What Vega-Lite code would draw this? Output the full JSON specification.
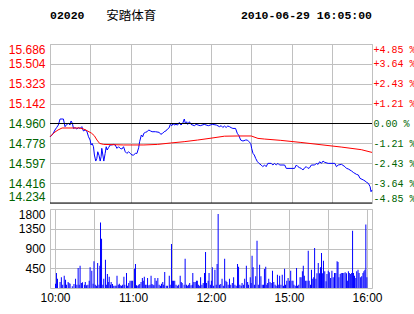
{
  "$schema": "https://vega.github.io/schema/vega-lite/v6.json",
  "padding": {"left": 7, "top": 5, "right": 5, "bottom": 5},
  "background": "white",
  "config": {"view": {"stroke": "#c0c0c0"}, "font": "Liberation Sans", "axis": {"labelFont": "Liberation Sans", "labelColor": "#000000"}},
  "datasets": {
    "header": [
      {"m": 0, "t": "02020", "k": "code"},
      {"m": 42, "t": "安踏体育", "k": "name"},
      {"m": 240, "t": "2010-06-29 16:05:00", "k": "time"}
    ],
    "ref": [{"pct": 0}, {"pct": -4.85}],
    "lines": [
      {"s":"price","m":0,"p":14.839},{"s":"price","m":1.1,"p":14.849},{"s":"price","m":2.4,"p":14.870},{"s":"price","m":3.7,"p":14.901},{"s":"price","m":4.9,"p":14.922},{"s":"price","m":6.2,"p":14.946},{"s":"price","m":7.5,"p":15.001},{"s":"price","m":10,"p":15.001},{"s":"price","m":11.2,"p":14.931},{"s":"price","m":12.5,"p":14.952},{"s":"price","m":13.7,"p":14.961},{"s":"price","m":14.9,"p":14.946},{"s":"price","m":15.7,"p":14.983},{"s":"price","m":16.7,"p":14.961},{"s":"price","m":17.5,"p":14.915},{"s":"price","m":18.7,"p":14.922},{"s":"price","m":20,"p":14.910},{"s":"price","m":21.2,"p":14.922},{"s":"price","m":22.4,"p":14.915},{"s":"price","m":23.7,"p":14.931},{"s":"price","m":24.9,"p":14.892},{"s":"price","m":26.2,"p":14.901},{"s":"price","m":27.4,"p":14.892},{"s":"price","m":28.7,"p":14.839},{"s":"price","m":29.9,"p":14.809},{"s":"price","m":30.6,"p":14.764},{"s":"price","m":31.4,"p":14.778},{"s":"price","m":32.4,"p":14.748},{"s":"price","m":33.1,"p":14.672},{"s":"price","m":34.1,"p":14.617},{"s":"price","m":34.9,"p":14.641},{"s":"price","m":35.6,"p":14.702},{"s":"price","m":36.6,"p":14.666},{"s":"price","m":37.4,"p":14.617},{"s":"price","m":38.1,"p":14.657},{"s":"price","m":38.6,"p":14.733},{"s":"price","m":39.4,"p":14.672},{"s":"price","m":40.1,"p":14.617},{"s":"price","m":41.1,"p":14.687},{"s":"price","m":41.9,"p":14.748},{"s":"price","m":42.6,"p":14.718},{"s":"price","m":43.6,"p":14.739},{"s":"price","m":44.9,"p":14.764},{"s":"price","m":46.1,"p":14.764},{"s":"price","m":47.4,"p":14.769},{"s":"price","m":48.6,"p":14.764},{"s":"price","m":49.9,"p":14.733},{"s":"price","m":51.1,"p":14.748},{"s":"price","m":52.3,"p":14.733},{"s":"price","m":53.6,"p":14.727},{"s":"price","m":54.8,"p":14.748},{"s":"price","m":56.1,"p":14.702},{"s":"price","m":57.3,"p":14.687},{"s":"price","m":58.6,"p":14.702},{"s":"price","m":59.8,"p":14.687},{"s":"price","m":61.1,"p":14.672},{"s":"price","m":62.3,"p":14.672},{"s":"price","m":63.6,"p":14.687},{"s":"price","m":64.8,"p":14.687},{"s":"price","m":66.1,"p":14.739},{"s":"price","m":66.8,"p":14.794},{"s":"price","m":68.1,"p":14.855},{"s":"price","m":69.1,"p":14.839},{"s":"price","m":69.9,"p":14.870},{"s":"price","m":71.1,"p":14.879},{"s":"price","m":72.4,"p":14.885},{"s":"price","m":73.6,"p":14.901},{"s":"price","m":74.9,"p":14.892},{"s":"price","m":76.1,"p":14.885},{"s":"price","m":78.6,"p":14.885},{"s":"price","m":81.4,"p":14.879},{"s":"price","m":82.6,"p":14.861},{"s":"price","m":83.9,"p":14.870},{"s":"price","m":85.1,"p":14.885},{"s":"price","m":86.4,"p":14.892},{"s":"price","m":87.6,"p":14.910},{"s":"price","m":88.9,"p":14.922},{"s":"price","m":89.6,"p":14.952},{"s":"price","m":90.8,"p":14.940},{"s":"price","m":91.8,"p":14.961},{"s":"price","m":92.6,"p":14.946},{"s":"price","m":93.9,"p":14.952},{"s":"price","m":95.1,"p":14.946},{"s":"price","m":96.4,"p":14.970},{"s":"price","m":97.6,"p":14.946},{"s":"price","m":98.9,"p":14.961},{"s":"price","m":100.1,"p":15.001},{"s":"price","m":100.9,"p":14.961},{"s":"price","m":101.9,"p":14.976},{"s":"price","m":102.6,"p":14.952},{"s":"price","m":103.9,"p":14.976},{"s":"price","m":105.1,"p":14.952},{"s":"price","m":107.6,"p":14.940},{"s":"price","m":108.9,"p":14.952},{"s":"price","m":112,"p":14.940},{"s":"price","m":115,"p":14.952},{"s":"price","m":118,"p":14.940},{"s":"price","m":121,"p":14.952},{"s":"price","m":124,"p":14.946},{"s":"price","m":126.3,"p":14.931},{"s":"price","m":127.6,"p":14.940},{"s":"price","m":128.8,"p":14.924},{"s":"price","m":130,"p":14.937},{"s":"price","m":131.3,"p":14.924},{"s":"price","m":132.5,"p":14.937},{"s":"price","m":133.8,"p":14.931},{"s":"price","m":135,"p":14.922},{"s":"price","m":136.3,"p":14.915},{"s":"price","m":138.3,"p":14.915},{"s":"price","m":139.6,"p":14.870},{"s":"price","m":140.8,"p":14.849},{"s":"price","m":142.1,"p":14.809},{"s":"price","m":143.8,"p":14.800},{"s":"price","m":145.8,"p":14.809},{"s":"price","m":147.1,"p":14.809},{"s":"price","m":148.3,"p":14.794},{"s":"price","m":149.6,"p":14.778},{"s":"price","m":150.3,"p":14.733},{"s":"price","m":151.3,"p":14.687},{"s":"price","m":152.3,"p":14.672},{"s":"price","m":153.3,"p":14.641},{"s":"price","m":154.6,"p":14.611},{"s":"price","m":155.8,"p":14.596},{"s":"price","m":157.4,"p":14.581},{"s":"price","m":158.6,"p":14.566},{"s":"price","m":159.9,"p":14.581},{"s":"price","m":161.1,"p":14.566},{"s":"price","m":162.4,"p":14.596},{"s":"price","m":164.9,"p":14.596},{"s":"price","m":166.1,"p":14.581},{"s":"price","m":167.4,"p":14.596},{"s":"price","m":168.6,"p":14.581},{"s":"price","m":169.9,"p":14.596},{"s":"price","m":171.1,"p":14.581},{"s":"price","m":174.9,"p":14.581},{"s":"price","m":176.1,"p":14.550},{"s":"price","m":182.3,"p":14.550},{"s":"price","m":183.6,"p":14.581},{"s":"price","m":184.8,"p":14.566},{"s":"price","m":186.1,"p":14.556},{"s":"price","m":187.3,"p":14.550},{"s":"price","m":188.5,"p":14.535},{"s":"price","m":189.8,"p":14.556},{"s":"price","m":191,"p":14.566},{"s":"price","m":192.3,"p":14.550},{"s":"price","m":193.5,"p":14.556},{"s":"price","m":194.8,"p":14.581},{"s":"price","m":197.3,"p":14.581},{"s":"price","m":198.5,"p":14.596},{"s":"price","m":199.8,"p":14.587},{"s":"price","m":201,"p":14.611},{"s":"price","m":202.3,"p":14.596},{"s":"price","m":203.5,"p":14.617},{"s":"price","m":204.8,"p":14.605},{"s":"price","m":207.3,"p":14.596},{"s":"price","m":212.3,"p":14.596},{"s":"price","m":213.5,"p":14.566},{"s":"price","m":214.8,"p":14.581},{"s":"price","m":217.3,"p":14.587},{"s":"price","m":219.8,"p":14.566},{"s":"price","m":221,"p":14.550},{"s":"price","m":222.3,"p":14.545},{"s":"price","m":224.8,"p":14.526},{"s":"price","m":226.1,"p":14.513},{"s":"price","m":227.3,"p":14.504},{"s":"price","m":228.5,"p":14.495},{"s":"price","m":229.8,"p":14.490},{"s":"price","m":231.1,"p":14.459},{"s":"price","m":233.6,"p":14.444},{"s":"price","m":234.8,"p":14.435},{"s":"price","m":236.1,"p":14.422},{"s":"price","m":237.3,"p":14.413},{"s":"price","m":238.6,"p":14.383},{"s":"price","m":239.3,"p":14.337},{"s":"price","m":240,"p":14.353},
      {"s":"avg","m":0,"p":14.839},{"s":"avg","m":3,"p":14.876},{"s":"avg","m":6,"p":14.901},{"s":"avg","m":9,"p":14.919},{"s":"avg","m":22,"p":14.919},{"s":"avg","m":25,"p":14.910},{"s":"avg","m":28,"p":14.892},{"s":"avg","m":31,"p":14.871},{"s":"avg","m":33,"p":14.849},{"s":"avg","m":35,"p":14.809},{"s":"avg","m":37,"p":14.778},{"s":"avg","m":40,"p":14.769},{"s":"avg","m":55,"p":14.764},{"s":"avg","m":70,"p":14.764},{"s":"avg","m":80,"p":14.769},{"s":"avg","m":90,"p":14.782},{"s":"avg","m":100,"p":14.794},{"s":"avg","m":110,"p":14.809},{"s":"avg","m":120,"p":14.826},{"s":"avg","m":130,"p":14.844},{"s":"avg","m":140,"p":14.846},{"s":"avg","m":150,"p":14.846},{"s":"avg","m":155,"p":14.824},{"s":"avg","m":160,"p":14.818},{"s":"avg","m":172,"p":14.806},{"s":"avg","m":187,"p":14.787},{"s":"avg","m":202,"p":14.766},{"s":"avg","m":217,"p":14.745},{"s":"avg","m":232,"p":14.721},{"s":"avg","m":240,"p":14.696}
    ],
    "vol": [
      {"m":0.4,"v":99},{"m":1.1,"v":342},{"m":1.9,"v":213},{"m":3.9,"v":137},{"m":4.9,"v":243},{"m":5.9,"v":76},{"m":7.1,"v":281},{"m":8.1,"v":190},{"m":8.8,"v":76},{"m":10.1,"v":137},{"m":10.8,"v":114},{"m":11.6,"v":99},{"m":13.3,"v":38},{"m":14.6,"v":91},{"m":15.8,"v":213},{"m":16.8,"v":76},{"m":17.8,"v":456},{"m":18.6,"v":76},{"m":19.3,"v":509},{"m":20.3,"v":114},{"m":21.1,"v":129},{"m":22.6,"v":76},{"m":23.3,"v":137},{"m":24.3,"v":61},{"m":25.3,"v":76},{"m":26.3,"v":167},{"m":27.0,"v":471},{"m":28.3,"v":395},{"m":29.3,"v":99},{"m":30.0,"v":608},{"m":31.0,"v":76},{"m":32.0,"v":53},{"m":32.8,"v":570},{"m":33.8,"v":76},{"m":34.5,"v":509},{"m":35.0,"v":1490},{"m":35.8,"v":1125},{"m":36.8,"v":76},{"m":37.5,"v":213},{"m":38.8,"v":646},{"m":39.5,"v":76},{"m":40.3,"v":319},{"m":41.0,"v":137},{"m":41.7,"v":258},{"m":42.7,"v":76},{"m":43.2,"v":137},{"m":44.2,"v":91},{"m":45.2,"v":53},{"m":46.2,"v":53},{"m":47.0,"v":53},{"m":47.7,"v":281},{"m":48.7,"v":76},{"m":49.5,"v":99},{"m":50.2,"v":61},{"m":51.2,"v":53},{"m":52.0,"v":76},{"m":53.0,"v":258},{"m":53.7,"v":76},{"m":55.0,"v":342},{"m":55.7,"v":53},{"m":56.7,"v":114},{"m":57.7,"v":167},{"m":58.7,"v":167},{"m":59.7,"v":167},{"m":61.2,"v":441},{"m":61.9,"v":547},{"m":62.7,"v":61},{"m":63.7,"v":53},{"m":64.4,"v":76},{"m":65.2,"v":91},{"m":66.2,"v":137},{"m":67.2,"v":228},{"m":67.9,"v":167},{"m":68.7,"v":258},{"m":69.7,"v":76},{"m":70.7,"v":76},{"m":71.2,"v":228},{"m":72.2,"v":61},{"m":73.1,"v":76},{"m":73.9,"v":281},{"m":74.6,"v":91},{"m":75.4,"v":76},{"m":76.1,"v":61},{"m":76.9,"v":228},{"m":77.9,"v":167},{"m":79.1,"v":228},{"m":80.1,"v":76},{"m":81.1,"v":53},{"m":81.9,"v":99},{"m":82.9,"v":137},{"m":83.6,"v":76},{"m":84.4,"v":365},{"m":85.6,"v":53},{"m":86.6,"v":53},{"m":87.9,"v":281},{"m":88.6,"v":76},{"m":89.6,"v":1003},{"m":90.3,"v":167},{"m":91.1,"v":167},{"m":92.1,"v":167},{"m":93.1,"v":76},{"m":94.1,"v":53},{"m":95.1,"v":76},{"m":96.3,"v":281},{"m":97.1,"v":137},{"m":97.8,"v":114},{"m":99.3,"v":76},{"m":100.1,"v":669},{"m":101.1,"v":76},{"m":101.8,"v":53},{"m":102.8,"v":76},{"m":103.6,"v":114},{"m":104.6,"v":61},{"m":105.6,"v":76},{"m":106.0,"v":342},{"m":106.8,"v":137},{"m":107.8,"v":137},{"m":108.8,"v":167},{"m":109.5,"v":167},{"m":110.3,"v":76},{"m":111.3,"v":53},{"m":112.0,"v":243},{"m":113.0,"v":76},{"m":114.0,"v":114},{"m":115.0,"v":342},{"m":115.8,"v":821},{"m":116.5,"v":114},{"m":117.8,"v":167},{"m":118.5,"v":342},{"m":119.5,"v":76},{"m":120.3,"v":167},{"m":121.0,"v":471},{"m":122.0,"v":53},{"m":123.0,"v":418},{"m":124.0,"v":76},{"m":124.7,"v":547},{"m":125.5,"v":1687},{"m":126.5,"v":76},{"m":127.5,"v":91},{"m":128.5,"v":213},{"m":129.5,"v":53},{"m":130.5,"v":669},{"m":131.5,"v":167},{"m":132.2,"v":137},{"m":133.2,"v":76},{"m":134.2,"v":213},{"m":135.2,"v":76},{"m":136.4,"v":114},{"m":137.4,"v":243},{"m":138.4,"v":76},{"m":139.4,"v":53},{"m":140.4,"v":547},{"m":141.2,"v":486},{"m":142.2,"v":76},{"m":143.2,"v":53},{"m":143.9,"v":114},{"m":144.9,"v":76},{"m":145.9,"v":213},{"m":147.2,"v":509},{"m":148.2,"v":137},{"m":148.9,"v":76},{"m":150.2,"v":243},{"m":150.9,"v":114},{"m":151.6,"v":737},{"m":152.4,"v":471},{"m":153.4,"v":76},{"m":154.4,"v":266},{"m":155.4,"v":1079},{"m":156.4,"v":76},{"m":157.4,"v":532},{"m":158.4,"v":266},{"m":159.4,"v":76},{"m":160.4,"v":76},{"m":161.1,"v":433},{"m":162.1,"v":486},{"m":162.9,"v":76},{"m":163.6,"v":114},{"m":164.4,"v":213},{"m":165.4,"v":137},{"m":166.3,"v":114},{"m":167.3,"v":395},{"m":168.3,"v":137},{"m":169.3,"v":76},{"m":170.1,"v":53},{"m":171.1,"v":304},{"m":172.1,"v":76},{"m":172.8,"v":281},{"m":173.8,"v":76},{"m":174.8,"v":304},{"m":175.8,"v":53},{"m":176.6,"v":441},{"m":177.3,"v":76},{"m":178.3,"v":167},{"m":179.3,"v":228},{"m":180.3,"v":167},{"m":181.3,"v":395},{"m":182.3,"v":167},{"m":183.1,"v":167},{"m":183.8,"v":76},{"m":184.8,"v":53},{"m":185.8,"v":456},{"m":186.5,"v":53},{"m":187.5,"v":76},{"m":188.5,"v":243},{"m":189.3,"v":243},{"m":190.3,"v":380},{"m":191.0,"v":509},{"m":191.8,"v":281},{"m":192.8,"v":167},{"m":193.8,"v":167},{"m":194.8,"v":851},{"m":195.5,"v":167},{"m":196.5,"v":76},{"m":197.3,"v":418},{"m":198.3,"v":213},{"m":199.0,"v":243},{"m":199.7,"v":912},{"m":200.7,"v":213},{"m":201.5,"v":334},{"m":202.5,"v":570},{"m":203.5,"v":334},{"m":204.2,"v":471},{"m":205.0,"v":798},{"m":205.7,"v":334},{"m":206.5,"v":623},{"m":207.5,"v":380},{"m":208.5,"v":152},{"m":209.2,"v":319},{"m":210.2,"v":395},{"m":211.0,"v":357},{"m":212.0,"v":228},{"m":213.0,"v":395},{"m":214.0,"v":243},{"m":215.0,"v":342},{"m":216.0,"v":342},{"m":217.0,"v":608},{"m":217.7,"v":593},{"m":218.4,"v":243},{"m":219.4,"v":319},{"m":220.2,"v":342},{"m":221.2,"v":342},{"m":222.2,"v":342},{"m":223.2,"v":357},{"m":224.2,"v":334},{"m":224.9,"v":167},{"m":225.7,"v":380},{"m":226.4,"v":342},{"m":227.4,"v":319},{"m":228.2,"v":342},{"m":228.9,"v":1307},{"m":229.6,"v":342},{"m":230.4,"v":281},{"m":231.4,"v":228},{"m":232.1,"v":380},{"m":233.1,"v":418},{"m":233.9,"v":342},{"m":234.9,"v":243},{"m":235.9,"v":266},{"m":236.9,"v":342},{"m":237.6,"v":380},{"m":238.4,"v":418},{"m":239.1,"v":1444},{"m":239.9,"v":243}
    ]
  },
  "spacing": 17,
  "bounds": "flush",
  "vconcat": [
    {
      "width": 322,
      "height": 22,
      "view": {"stroke": null},
      "data": {"name": "header"},
      "layer": [
        {
          "transform": [{"filter": "datum.k == 'code'"}],
          "mark": {"type": "text", "align": "left", "font": "Liberation Mono", "fontWeight": "bold", "fontSize": 11.5, "color": "#000000"},
          "encoding": {"x": {"field": "m", "type": "quantitative", "scale": {"domain": [0, 240], "nice": false}, "axis": null}, "text": {"field": "t"}}
        },
        {
          "transform": [{"filter": "datum.k == 'name'"}],
          "mark": {"type": "text", "align": "left", "font": "Noto Sans CJK SC", "fontSize": 12.5, "color": "#000000"},
          "encoding": {"x": {"field": "m", "type": "quantitative"}, "text": {"field": "t"}}
        },
        {
          "transform": [{"filter": "datum.k == 'time'"}],
          "mark": {"type": "text", "align": "right", "font": "Liberation Mono", "fontWeight": "bold", "fontSize": 11.5, "color": "#000000"},
          "encoding": {"x": {"field": "m", "type": "quantitative"}, "text": {"field": "t"}}
        }
      ]
    },
    {
      "spacing": 6,
      "bounds": "flush",
      "vconcat": [
        {
          "width": 322,
          "height": 159,
          "layer": [
            {
              "data": {"name": "lines"},
              "mark": {"type": "line", "strokeWidth": 1},
              "encoding": {
                "x": {"field": "m", "type": "quantitative", "scale": {"domain": [0, 240], "nice": false, "zero": false},
                  "axis": {"values": [0, 30, 60, 90, 120, 150, 180, 210, 240], "labels": false, "ticks": false, "domain": false, "grid": true, "gridColor": "#c0c0c0", "gridOpacity": 1, "title": null}},
                "y": {"field": "p", "type": "quantitative", "scale": {"domain": [14.234, 15.686], "nice": false, "zero": false},
                  "axis": {"values": [14.234, 14.4155, 14.597, 14.7785, 14.96, 15.1415, 15.323, 15.5045, 15.686],
                    "labelExpr": "['14.234','14.416','14.597','14.778','14.960','15.142','15.323','15.504','15.686'][round((datum.value-14.234)/0.1815)]",
                    "ticks": false, "domain": false, "grid": true, "gridColor": "#c0c0c0", "gridOpacity": 1, "labelPadding": 5, "labelFontSize": 12, "labelOverlap": false, "labelFlush": true, "labelFlushOffset": 0, "title": null,
                    "labelColor": {"condition": {"test": "datum.value > 14.97", "value": "#ff0000"}, "value": "#006400"},
                    "encode": {"labels": {"update": {"fill": {"signal": "datum.value > 14.97 ? '#ff0000' : (datum.value < 14.95 ? '#006400' : '#000000')"}}}}}},
                "color": {"field": "s", "type": "nominal", "scale": {"domain": ["price", "avg"], "range": ["#0000ff", "#ff0000"]}, "legend": null}
              }
            },
            {
              "data": {"name": "ref"},
              "mark": {"type": "rule", "color": "#000000", "strokeWidth": 1},
              "encoding": {
                "y": {"field": "pct", "type": "quantitative", "scale": {"domain": [-4.85, 4.85], "nice": false, "zero": false},
                  "axis": {"orient": "right", "values": [-4.85, -3.64, -2.43, -1.21, 0, 1.21, 2.43, 3.64, 4.85],
                    "labelExpr": "datum.value > 0 ? '+' + format(datum.value, '.2f') + ' %' : (datum.value < 0 ? '-' + format(-datum.value, '.2f') + ' %' : '\u00a00.00 %')",
                    "ticks": false, "domain": false, "grid": false, "labelPadding": 1, "labelFont": "Liberation Mono", "labelFontSize": 10, "labelOverlap": false, "labelFlush": true, "labelFlushOffset": 0, "title": null,
                    "labelColor": {"condition": {"test": "datum.value > 0.01", "value": "#ff0000"}, "value": "#006400"},
                    "encode": {"labels": {"update": {"fill": {"signal": "datum.value > 0.01 ? '#ff0000' : (datum.value < -0.01 ? '#006400' : '#000000')"}}}}}}
              }
            }
          ],
          "resolve": {"scale": {"y": "independent"}, "axis": {"y": "independent"}}
        },
        {
          "width": 322,
          "height": 79,
          "data": {"name": "vol"},
          "mark": {"type": "bar", "color": "#0000ff", "size": 1},
          "encoding": {
            "x": {"field": "m", "type": "quantitative", "scale": {"domain": [0, 240], "nice": false, "zero": false},
              "axis": {"values": [0, 30, 60, 90, 120, 150, 180, 210, 240],
                "labelExpr": "datum.value % 60 == 0 ? ['10:00','11:00','12:00','15:00','16:00'][datum.value/60] : ''",
                "ticks": false, "domain": false, "grid": true, "gridColor": "#c0c0c0", "gridOpacity": 1, "labelPadding": 4, "labelFontSize": 12, "labelOverlap": false, "labelFlush": false, "title": null}},
            "y": {"field": "v", "type": "quantitative", "scale": {"domain": [0, 1800], "nice": false},
              "axis": {"values": [450, 900, 1350, 1800], "format": "d", "ticks": false, "domain": false, "grid": true, "gridColor": "#c0c0c0", "gridOpacity": 1, "labelPadding": 5, "labelFontSize": 12, "labelOverlap": false, "labelFlush": true, "labelFlushOffset": 0, "title": null}}
          }
        }
      ]
    }
  ]
}
